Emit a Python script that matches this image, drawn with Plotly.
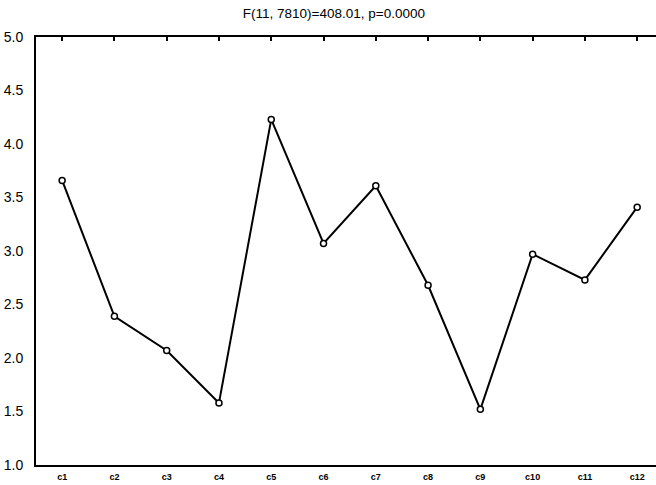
import plotly.graph_objects as go

categories = ["c1", "c2", "c3", "c4", "c5", "c6", "c7", "c8", "c9", "c10", "c11", "c12"]
values = [3.66, 2.39, 2.07, 1.58, 4.23, 3.07, 3.61, 2.68, 1.52, 2.97, 2.73, 3.41]
y_ticks = [1.0, 1.5, 2.0, 2.5, 3.0, 3.5, 4.0, 4.5, 5.0]
title_text = "F(11, 7810)=408.01, p=0.0000"

xpos = list(range(len(categories)))
xrange_ = [-0.5, 11.36]

fig = go.Figure()
fig.add_trace(go.Scatter(
    x=xpos, y=values, mode="lines+markers",
    line=dict(color="black", width=2),
    marker=dict(symbol="circle", size=6, color="white",
                line=dict(color="black", width=1.5)),
    showlegend=False, hoverinfo="skip",
))
# invisible trace to anchor the top axis
fig.add_trace(go.Scatter(
    x=xpos, y=values, xaxis="x2", mode="markers",
    marker=dict(opacity=0), showlegend=False, hoverinfo="skip",
))

fig.update_layout(
    width=656, height=485,
    margin=dict(l=36, r=0, t=37, b=20),
    paper_bgcolor="white", plot_bgcolor="white",
    font=dict(family="Liberation Sans, Arial, sans-serif", color="black"),
    title=dict(text=title_text, x=0.509, xanchor="center", xref="container",
               y=1 - 13 / 485, yanchor="middle", yref="container",
               font=dict(size=13.5, color="black")),
    xaxis=dict(
        range=xrange_, tickmode="array", tickvals=xpos, ticktext=categories,
        showline=True, linecolor="black", linewidth=2, ticks="",
        showgrid=False, zeroline=False,
        tickfont=dict(size=9, family="Liberation Sans, Arial, sans-serif", weight="bold"),
        ticklabelstandoff=2,
    ),
    xaxis2=dict(
        range=xrange_, overlaying="x", side="top", anchor="y",
        tickmode="array", tickvals=xpos, showticklabels=False,
        ticks="inside", ticklen=4, tickwidth=2, tickcolor="black",
        showline=True, linecolor="black", linewidth=2,
        showgrid=False, zeroline=False,
    ),
    yaxis=dict(
        range=[1, 5], tickmode="array", tickvals=y_ticks,
        ticktext=[f"{v:.1f}" for v in y_ticks],
        showline=True, linecolor="black", linewidth=2, ticks="",
        showgrid=False, zeroline=False,
        tickfont=dict(size=14),
        ticklabelstandoff=8,
    ),
)

fig.write_html("out.html",
               config={"displayModeBar": False},
               post_script="document.body.style.margin='0';document.body.style.overflow='hidden';")
